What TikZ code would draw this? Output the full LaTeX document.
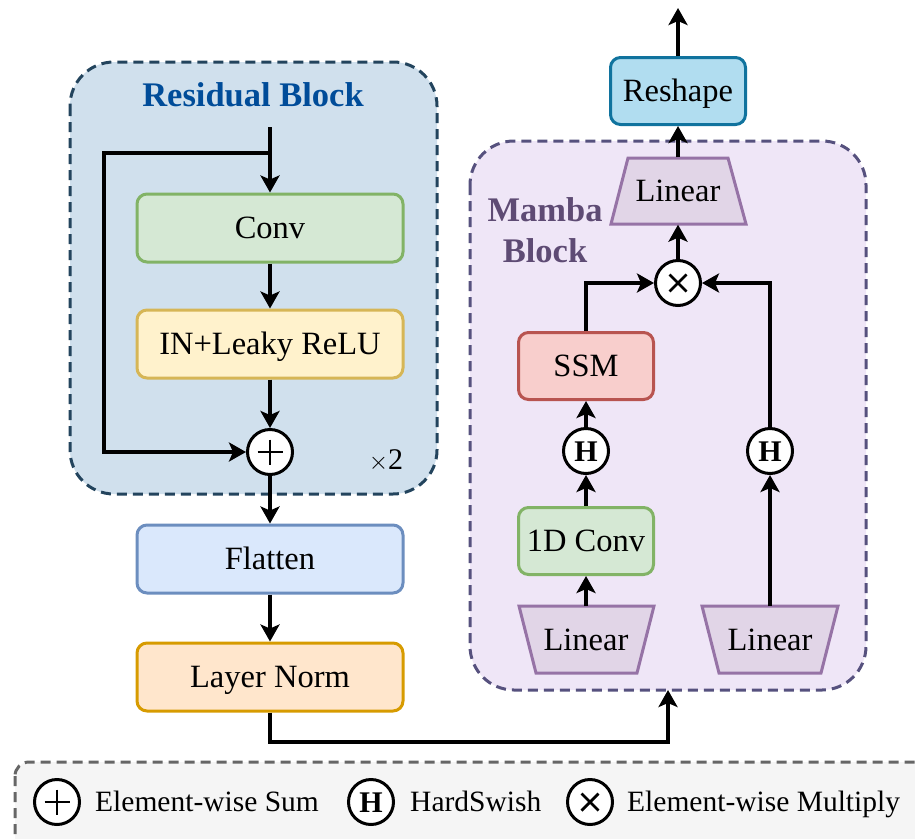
\documentclass[tikz,border=0pt]{standalone}
\usepackage{fontspec}
\setmainfont{Liberation Serif}
\usetikzlibrary{arrows.meta,calc}
\definecolor{resfill}{HTML}{D0E0ED}
\definecolor{resdash}{HTML}{23445D}
\definecolor{restitle}{HTML}{004C99}
\definecolor{mamfill}{HTML}{EFE6F7}
\definecolor{mamdash}{HTML}{56517E}
\definecolor{mamtitle}{HTML}{5E4B74}
\definecolor{gfill}{HTML}{D5E8D4}\definecolor{gline}{HTML}{82B366}
\definecolor{yfill}{HTML}{FFF2CC}\definecolor{yline}{HTML}{D6B656}
\definecolor{bfill}{HTML}{DAE8FC}\definecolor{bline}{HTML}{6C8EBF}
\definecolor{ofill}{HTML}{FFE6CC}\definecolor{oline}{HTML}{D79B00}
\definecolor{rfill}{HTML}{F8CECC}\definecolor{rline}{HTML}{B85450}
\definecolor{cfill}{HTML}{B1DDF0}\definecolor{cline}{HTML}{10739E}
\definecolor{pfill}{HTML}{E1D5E7}\definecolor{pline}{HTML}{9673A6}
\definecolor{lgfill}{HTML}{F5F5F5}\definecolor{lgline}{HTML}{666666}
\begin{document}
\begin{tikzpicture}[x=1pt,y=-1pt,
  box/.style={draw, line width=3pt, rounded corners=10pt, inner sep=0pt,
    font=\fontsize{32.5}{38}\selectfont, text height=21.5pt, text depth=0pt},
  widebox/.style={box, minimum width=266pt, minimum height=68pt},
  smallbox/.style={box, minimum width=135pt, minimum height=67pt},
  linbox/.style={inner sep=0pt, minimum width=135pt, minimum height=67pt,
    font=\fontsize{32.5}{38}\selectfont, text height=21.5pt, text depth=0pt},
  trap/.style={draw=pline, fill=pfill, line width=3pt, line join=miter},
  op/.style={circle, draw, fill=white, line width=3pt, minimum size=45pt, inner sep=0pt},
  hop/.style={op, font=\bfseries\fontsize{30}{30}\selectfont, text height=20pt, text depth=0pt},
  arr/.style={line width=3.4pt, -{Stealth[length=17pt,width=19pt,inset=4pt]}},
  sym/.style={line width=2.8pt},
  grp/.style={dashed, dash pattern=on 10pt off 6pt, line width=3pt, rounded corners=44pt}
]
\useasboundingbox (0,0) rectangle (915,838);

% group backgrounds
\draw[grp, draw=resdash, fill=resfill] (70,62) rectangle (437,494);
\draw[grp, draw=mamdash, fill=mamfill] (470,141) rectangle (866,690);
\draw[grp, draw=lgline, fill=lgfill, rounded corners=14pt] (15,762) rectangle (935,860);

\node[font=\bfseries\fontsize{34.5}{36}\selectfont, text=restitle] (rtitle) at (253,95) {Residual Block};
\node[font=\bfseries\fontsize{34.5}{41}\selectfont, text=mamtitle, align=center] (mtitle) at (545,230) {Mamba\\Block};
\node[font=\fontsize{30}{30}\selectfont] (times2) at (386,461) {$\times$2};

% left column
\node[widebox, draw=gline, fill=gfill] (conv) at (270,228) {Conv};
\node[widebox, draw=yline, fill=yfill] (inrelu) at (270,344) {IN+Leaky ReLU};
\node[op] (plus) at (270,452) {};
\draw[sym] ($(plus)+(-12.5,0)$) -- ($(plus)+(12.5,0)$) ($(plus)+(0,-12.5)$) -- ($(plus)+(0,12.5)$);
\node[widebox, draw=bline, fill=bfill] (flat) at (270,559) {Flatten};
\node[widebox, draw=oline, fill=ofill] (lnorm) at (270,677) {Layer Norm};

\coordinate (rin) at (270,127);
\coordinate (rsplit) at (270,153);
\coordinate (rskip1) at (104,153);
\coordinate (rskip2) at (104,452);
\draw[arr] (rin) -- (conv.north);
\draw[arr] (rsplit) -- (rskip1) -- (rskip2) -- (plus.west);
\draw[arr] (conv.south) -- (inrelu.north);
\draw[arr] (inrelu.south) -- (plus.north);
\draw[arr] (plus.south) -- (flat.north);
\draw[arr] (flat.south) -- (lnorm.north);

% mamba block
\draw[trap] (628,158) -- (728,158) -- (746,224) -- (611,224) -- cycle;
\node[linbox] (lintop) at (678,191) {Linear};
\node[smallbox, draw=cline, fill=cfill] (reshape) at (678,91) {Reshape};
\coordinate (out) at (678,8);
\node[op] (mul) at (678,283) {};
\draw[sym] ($(mul)+(-8.5,-8.5)$) -- ($(mul)+(8.5,8.5)$) ($(mul)+(-8.5,8.5)$) -- ($(mul)+(8.5,-8.5)$);
\node[smallbox, draw=rline, fill=rfill] (ssm) at (586,366) {SSM};
\node[hop] (h1) at (586,451) {H};
\node[smallbox, draw=gline, fill=gfill] (conv1d) at (586,541) {1D Conv};
\draw[trap] (519,606) -- (654,606) -- (637,673) -- (536,673) -- cycle;
\node[linbox] (linl) at (586,640) {Linear};
\draw[trap] (702,606) -- (838,606) -- (821,673) -- (719,673) -- cycle;
\node[linbox] (linr) at (770,640) {Linear};
\node[hop] (h2) at (770,451) {H};

\coordinate (mbot) at (668,690);
\coordinate (lc1) at (270,742);
\coordinate (lc2) at (668,742);
\draw[arr] (lnorm.south) -- (lc1) -- (lc2) -- (mbot);

\draw[arr] (linl.north) -- (conv1d.south);
\draw[arr] (conv1d.north) -- (h1.south);
\draw[arr] (h1.north) -- (ssm.south);
\draw[arr] (ssm.north) |- (mul.west);
\draw[arr] (linr.north) -- (h2.south);
\draw[arr] (h2.north) |- (mul.east);
\draw[arr] (mul.north) -- (lintop.south);
\draw[arr] (lintop.north) -- (reshape.south);
\draw[arr] (reshape.north) -- (out);

% legend
\tikzset{lgtext/.style={anchor=west, font=\fontsize{29.5}{32}\selectfont, inner sep=0pt, text height=19.5pt, text depth=0pt}}
\node[op] (lgplus) at (57,802) {};
\draw[sym] ($(lgplus)+(-12.5,0)$) -- ($(lgplus)+(12.5,0)$) ($(lgplus)+(0,-12.5)$) -- ($(lgplus)+(0,12.5)$);
\node[lgtext] (lgt1) at (95,802) {Element-wise Sum};
\node[hop] (lgh) at (371,802) {H};
\node[lgtext] (lgt2) at (410,802) {HardSwish};
\node[op] (lgmul) at (590,802) {};
\draw[sym] ($(lgmul)+(-8.5,-8.5)$) -- ($(lgmul)+(8.5,8.5)$) ($(lgmul)+(-8.5,8.5)$) -- ($(lgmul)+(8.5,-8.5)$);
\node[lgtext] (lgt3) at (627,802) {Element-wise Multiply};
\end{tikzpicture}
\end{document}
